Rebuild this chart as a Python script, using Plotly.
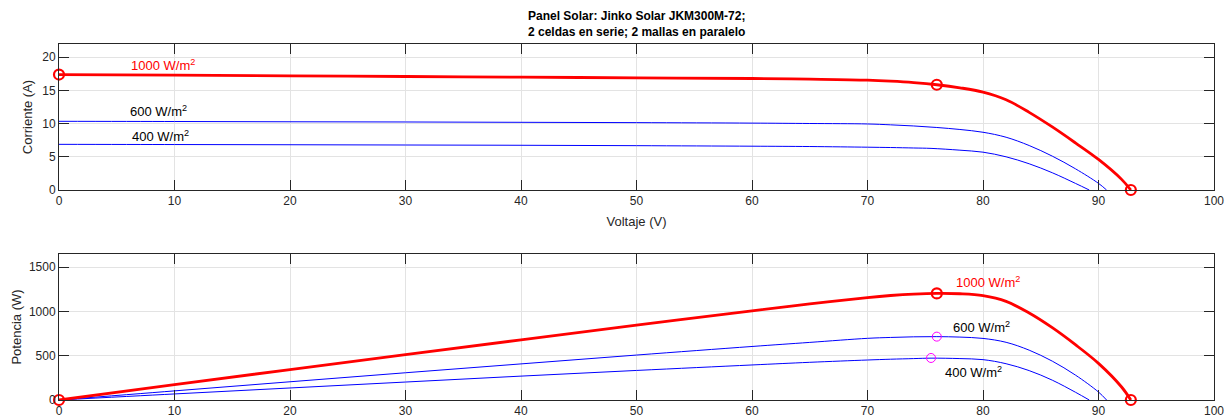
import plotly.graph_objects as go

# ---------------- data ----------------
V_1000 = [0, 10, 20, 30, 40, 50, 60, 65, 70, 72, 74, 76, 78, 80, 82, 84, 86, 88, 90, 92, 92.8]
I_1000 = [17.4, 17.3, 17.2, 17.1, 17.0, 16.9, 16.8, 16.7, 16.55, 16.4, 16.18, 15.86, 15.4, 14.75,
          13.6, 11.7, 9.5, 7.1, 4.6, 1.6, 0.0]
P_1000 = [0, 173, 344, 513, 680, 845, 1008, 1086, 1158, 1181, 1197, 1205, 1201, 1180,
          1115, 983, 817, 625, 414, 147, 0]

V_600 = [0, 10, 20, 30, 40, 50, 60, 65, 70, 72, 74, 76, 78, 80, 82, 84, 86, 88, 90, 90.7]
I_600 = [10.35, 10.32, 10.28, 10.25, 10.2, 10.15, 10.08, 10.02, 9.95, 9.82, 9.65, 9.42, 9.12,
         8.7, 7.95, 6.7, 5.1, 3.2, 1.0, 0.0]
P_600 = [0, 103, 206, 308, 408, 508, 605, 651, 697, 707, 714, 716, 711, 696, 652, 563, 439, 282, 90, 0]

V_400 = [0, 10, 20, 30, 40, 50, 60, 65, 70, 72, 74, 75.5, 78, 80, 82, 84, 86, 88, 89.2]
I_400 = [6.88, 6.85, 6.82, 6.78, 6.74, 6.68, 6.6, 6.55, 6.45, 6.4, 6.33, 6.27, 6.0, 5.7, 5.0,
         3.95, 2.6, 1.0, 0.0]
P_400 = [0, 68.5, 136, 203, 270, 334, 396, 426, 452, 461, 468, 473, 468, 456, 410, 332, 224, 88, 0]

# key points
IV_1000_pts_V = [0, 76, 92.8]
IV_1000_pts_I = [17.4, 15.86, 0]
PV_1000_pts_P = [0, 1205, 0]
MPP_600 = (76, 716)
MPP_400 = (75.5, 475)

x_ticks = [0, 10, 20, 30, 40, 50, 60, 70, 80, 90, 100]
y1_ticks = [0, 5, 10, 15, 20]
y2_ticks = [0, 500, 1000, 1500]

title_text = "<b>Panel Solar: Jinko Solar JKM300M-72;<br>2 celdas en serie; 2 mallas en paralelo</b>"

RED = "#ff0000"
BLUE = "#0000ff"
MAG = "#ff00ff"
FONT = "Liberation Sans, Arial, sans-serif"

fig = go.Figure()
spl = dict(shape="spline", smoothing=1.0)

# ---- top: I-V ----
fig.add_trace(go.Scatter(x=V_600, y=I_600, mode="lines", line=dict(color=BLUE, width=1, **spl),
                         xaxis="x", yaxis="y", showlegend=False, hoverinfo="skip"))
fig.add_trace(go.Scatter(x=V_400, y=I_400, mode="lines", line=dict(color=BLUE, width=1, **spl),
                         xaxis="x", yaxis="y", showlegend=False, hoverinfo="skip"))
fig.add_trace(go.Scatter(x=V_1000, y=I_1000, mode="lines", line=dict(color=RED, width=2.8, **spl),
                         xaxis="x", yaxis="y", showlegend=False, hoverinfo="skip"))
fig.add_trace(go.Scatter(x=IV_1000_pts_V, y=IV_1000_pts_I, mode="markers",
                         marker=dict(symbol="circle-open", size=10, color=RED, line=dict(width=2.2)),
                         xaxis="x", yaxis="y", showlegend=False, cliponaxis=False))

# ---- bottom: P-V ----
fig.add_trace(go.Scatter(x=V_600, y=P_600, mode="lines", line=dict(color=BLUE, width=1, **spl),
                         xaxis="x2", yaxis="y2", showlegend=False, hoverinfo="skip"))
fig.add_trace(go.Scatter(x=V_400, y=P_400, mode="lines", line=dict(color=BLUE, width=1, **spl),
                         xaxis="x2", yaxis="y2", showlegend=False, hoverinfo="skip"))
fig.add_trace(go.Scatter(x=V_1000, y=P_1000, mode="lines", line=dict(color=RED, width=2.8, **spl),
                         xaxis="x2", yaxis="y2", showlegend=False, hoverinfo="skip"))
fig.add_trace(go.Scatter(x=IV_1000_pts_V, y=PV_1000_pts_P, mode="markers",
                         marker=dict(symbol="circle-open", size=10, color=RED, line=dict(width=2.2)),
                         xaxis="x2", yaxis="y2", showlegend=False, cliponaxis=False))
fig.add_trace(go.Scatter(x=[MPP_600[0], MPP_400[0]], y=[MPP_600[1], MPP_400[1]], mode="markers",
                         marker=dict(symbol="circle-open", size=9, color=MAG, line=dict(width=1)),
                         xaxis="x2", yaxis="y2", showlegend=False, cliponaxis=False))

axis_common = dict(
    showgrid=True, gridcolor="#e3e3e3", gridwidth=1,
    showline=True, linecolor="#262626", linewidth=1, mirror="ticks",
    ticks="inside", ticklen=10, tickcolor="#262626", tickwidth=1,
    zeroline=False, automargin=False,
    tickfont=dict(family=FONT, size=12, color="#262626"),
)

fig.update_layout(
    width=1225, height=419,
    margin=dict(l=59, r=11, t=44, b=19),
    paper_bgcolor="white", plot_bgcolor="white",
    font=dict(family=FONT, size=12, color="#262626"),
    xaxis=dict(domain=[0, 1], anchor="y", range=[0, 100], tickvals=x_ticks,
               title=dict(text="Voltaje (V)", standoff=9, font=dict(size=13)), **axis_common),
    yaxis=dict(domain=[210 / 356, 1], anchor="x", range=[0, 22], tickvals=y1_ticks,
               title=dict(text="Corriente (A)", standoff=6, font=dict(size=13)), **axis_common),
    xaxis2=dict(domain=[0, 1], anchor="y2", range=[0, 100], tickvals=x_ticks, **axis_common),
    yaxis2=dict(domain=[0, 146 / 356], anchor="x2", range=[0, 1650], tickvals=y2_ticks,
                title=dict(text="Potencia (W)", standoff=4, font=dict(size=13)), **axis_common),
)

ann_font = dict(family=FONT, size=13)
anns = [
    dict(x=0.5004, y=1, xref="paper", yref="paper", text=title_text, yanchor="bottom", yshift=3,
         font=dict(family=FONT, size=12, color="#000000")),
    dict(x=9.0, y=18.8, xref="x", yref="y", text="1000 W/m<sup>2</sup>", font=dict(color=RED, **ann_font)),
    dict(x=8.6, y=11.9, xref="x", yref="y", text="600 W/m<sup>2</sup>", font=dict(color="#000000", **ann_font)),
    dict(x=8.8, y=8.2, xref="x", yref="y", text="400 W/m<sup>2</sup>", font=dict(color="#000000", **ann_font)),
    dict(x=80.4, y=1330, xref="x2", yref="y2", text="1000 W/m<sup>2</sup>", font=dict(color=RED, **ann_font)),
    dict(x=79.9, y=830, xref="x2", yref="y2", text="600 W/m<sup>2</sup>", font=dict(color="#000000", **ann_font)),
    dict(x=79.2, y=320, xref="x2", yref="y2", text="400 W/m<sup>2</sup>", font=dict(color="#000000", **ann_font)),
]
for a in anns:
    a.setdefault("yanchor", "middle")
    a.update(showarrow=False, xanchor="center")
fig.update_layout(annotations=anns)

fig.write_html("out.html")
